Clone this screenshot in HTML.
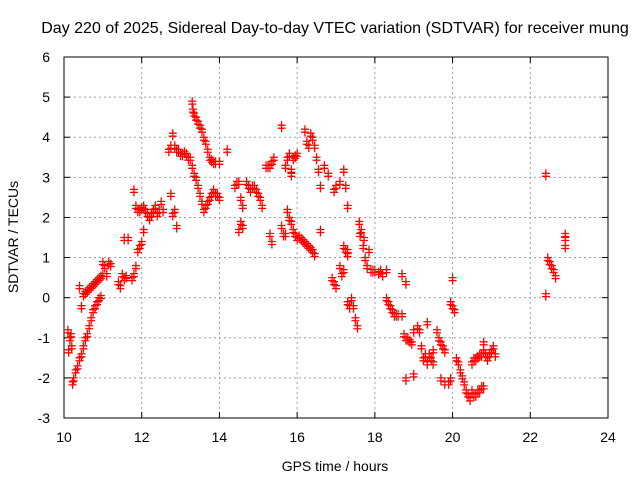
<!DOCTYPE html>
<html><head><meta charset="utf-8"><style>
body{margin:0;background:#fff;width:640px;height:480px;overflow:hidden}
svg text{font-family:"Liberation Sans",sans-serif;font-size:14px;fill:#000}
</style></head><body>
<svg id="chart" width="640" height="480" viewBox="0 0 640 480" xmlns="http://www.w3.org/2000/svg">
<text x="335" y="33" text-anchor="middle" style="font-size:16px">Day 220 of 2025, Sidereal Day-to-day VTEC variation (SDTVAR) for receiver mung</text>
<g id="grid"></g>
<g id="axes"></g>
<g id="marks"></g>
<text x="335" y="471" text-anchor="middle">GPS time / hours</text>
<text transform="translate(18,237) rotate(-90)" text-anchor="middle">SDTVAR / TECUs</text>
</svg>
<script>
const xTicks=[10,12,14,16,18,20,22,24];
const yTicks=[-3,-2,-1,0,1,2,3,4,5,6];
const times=[10.1,10.15,10.2,10.12,10.18,
10.22,10.25,10.3,10.35,10.4,10.45,10.5,10.55,10.6,10.65,10.7,10.75,10.8,10.85,10.9,10.95,
10.4,10.45,10.5,10.55,10.6,10.65,10.7,10.75,10.8,10.85,10.9,10.95,11.0,
11.0,11.05,11.1,11.15,11.2,
11.4,11.45,11.5,11.55,11.6,11.55,11.65,
11.8,11.85,11.9,11.95,12.0,12.05,12.1,12.15,12.2,12.25,12.3,12.35,12.4,12.45,12.5,12.55,
11.75,11.8,11.85,11.9,11.95,12.0,12.05,
12.75,12.8,12.85,12.9,
12.7,12.75,12.8,12.85,12.9,12.95,13.0,13.05,13.1,13.15,13.2,13.25,
13.3,13.32,13.35,13.4,13.45,13.5,13.55,13.6,13.65,13.7,13.75,13.8,13.85,13.9,14.0,
13.3,13.35,13.4,13.45,13.5,13.55,13.6,13.65,13.7,13.75,13.8,13.85,13.9,13.95,14.0,
14.2,14.4,14.45,14.5,14.55,14.6,14.6,14.5,14.55,
14.7,14.75,14.8,14.85,14.9,14.95,15.0,15.05,15.1,
15.3,15.35,
15.2,15.25,15.3,15.35,15.4,15.6,
15.6,15.65,15.7,15.75,15.8,15.85,15.9,15.95,16.0,16.05,16.1,16.15,16.2,16.25,16.3,16.35,16.4,16.45,
15.7,15.75,15.8,15.85,15.9,15.95,16.0,15.85,16.2,16.25,16.3,16.35,16.4,16.45,16.5,16.55,16.6,16.6,
16.7,16.8,16.95,17.0,17.1,17.2,17.25,17.3,
16.9,16.95,17.0,17.1,17.15,17.3,17.3,17.35,17.4,17.45,17.5,17.55,
17.6,17.62,17.65,17.7,17.72,17.75,17.8,17.85,17.9,17.95,18.0,18.1,18.15,18.2,18.3,
17.2,17.25,17.3,17.2,
18.3,18.35,18.4,18.45,18.5,18.55,18.6,18.7,18.7,18.8,
18.75,18.8,18.85,18.9,18.95,19.0,19.1,19.15,19.2,19.25,19.3,19.35,19.4,19.45,19.5,19.5,19.35,18.8,19.0,
19.6,19.65,19.7,19.75,19.8,19.7,19.8,19.9,19.95,20.0,19.95,20.0,20.05,
20.1,20.15,20.2,20.25,20.3,20.35,20.4,20.45,20.5,20.55,20.6,20.65,20.7,20.75,20.8,
20.5,20.55,20.6,20.65,20.7,20.75,20.8,20.85,20.9,20.95,21.0,21.05,21.1,20.8,
22.4,22.4,22.45,22.5,22.55,22.6,22.65,22.9,22.9,22.9];
const values=[-0.8,-1.0,-1.2,-1.3,-0.9,
-2.1,-2.0,-1.8,-1.7,-1.5,-1.4,-1.2,-1.0,-0.9,-0.7,-0.5,-0.3,-0.2,-0.1,0.0,0.05,
0.3,-0.2,0.1,0.15,0.2,0.25,0.3,0.35,0.4,0.45,0.5,0.55,0.6,
0.9,0.8,0.6,0.9,0.85,
0.4,0.3,0.6,0.5,0.55,1.5,1.5,
2.7,2.3,2.2,2.2,2.25,2.3,2.2,2.1,2.0,2.1,2.2,2.3,2.1,2.2,2.4,2.2,
0.5,0.6,0.8,1.2,1.3,1.4,1.7,
2.6,2.1,2.2,1.8,
3.7,3.8,4.1,3.8,3.7,3.7,3.6,3.6,3.65,3.6,3.5,3.5,
4.9,4.7,4.6,4.5,4.4,4.3,4.2,4.0,3.9,3.7,3.5,3.45,3.4,3.4,3.4,
3.3,3.1,3.0,2.8,2.6,2.4,2.2,2.3,2.4,2.5,2.6,2.7,2.6,2.6,2.5,
3.7,2.8,2.9,2.9,2.5,2.3,1.8,1.7,1.9,
2.9,2.8,2.7,2.8,2.8,2.7,2.6,2.5,2.3,
1.6,1.4,
3.3,3.3,3.3,3.4,3.5,4.3,
1.8,1.6,1.6,2.2,2.0,1.9,1.7,1.6,1.5,1.55,1.5,1.45,1.4,1.35,1.3,1.25,1.2,1.1,
3.3,3.5,3.6,3.1,3.5,3.55,3.6,3.2,4.2,3.9,3.8,4.1,4.0,3.8,3.5,3.2,2.8,1.7,
3.3,3.1,2.7,2.8,2.9,3.2,2.8,2.3,
0.5,0.4,0.3,0.8,0.6,1.1,-0.1,-0.2,0.0,-0.2,-0.5,-0.7,
1.9,1.6,1.7,1.3,1.5,1.0,0.8,1.2,0.7,0.7,0.7,0.65,0.7,0.6,0.7,
1.3,1.2,1.2,0.7,
0.0,-0.1,-0.2,-0.3,-0.4,-0.4,-0.4,-0.4,0.6,0.4,
-0.9,-1.0,-1.0,-1.05,-1.1,-0.8,-0.7,-0.8,-1.2,-1.5,-1.4,-0.6,-1.4,-1.5,-1.3,-1.6,-1.6,-2.0,-1.9,
-0.8,-1.0,-1.1,-1.2,-1.3,-2.0,-2.1,-2.1,-0.1,0.5,-2.0,-0.2,-0.3,
-1.5,-1.6,-1.8,-1.95,-2.1,-2.3,-2.4,-2.5,-2.3,-2.4,-2.4,-2.3,-2.3,-2.2,-2.2,
-1.6,-1.5,-1.5,-1.45,-1.4,-1.4,-1.3,-1.4,-1.5,-1.4,-1.3,-1.2,-1.4,-1.1,
3.1,0.1,1.0,0.9,0.8,0.7,0.55,1.6,1.5,1.3];
const L=64,R=608,T=57,B=418;
function X(t){return L+(t-10)/(24-10)*(R-L);}
function Y(v){return T+(6-v)/(6-(-3))*(B-T);}
const NS="http://www.w3.org/2000/svg";
function mk(tag,attrs,parent){const e=document.createElementNS(NS,tag);for(const k in attrs)e.setAttribute(k,attrs[k]);parent.appendChild(e);return e;}
const grid=document.getElementById('grid'),axes=document.getElementById('axes'),marks=document.getElementById('marks');
xTicks.forEach(t=>{
 if(t>10&&t<24){const g=mk('line',{x1:X(t),x2:X(t),y1:T,y2:B,stroke:'#a0a0a0','stroke-dasharray':'2,3'},grid);
 
 }
 mk('line',{x1:X(t),x2:X(t),y1:B,y2:B-6,stroke:'#000'},axes);
 mk('line',{x1:X(t),x2:X(t),y1:T,y2:T+6,stroke:'#000'},axes);
 const tx=mk('text',{x:X(t),y:B+24,'text-anchor':'middle'},axes);tx.textContent=t;
 
 
});
yTicks.forEach(v=>{
 if(v>-3&&v<6){const g=mk('line',{x1:L,x2:R,y1:Y(v),y2:Y(v),stroke:'#a0a0a0','stroke-dasharray':'2,3'},grid);
 
 }
 mk('line',{x1:L,x2:L+6,y1:Y(v),y2:Y(v),stroke:'#000'},axes);
 mk('line',{x1:R,x2:R-6,y1:Y(v),y2:Y(v),stroke:'#000'},axes);
 const tx=mk('text',{x:L-14,y:Y(v)+5,'text-anchor':'end'},axes);tx.textContent=v;
 
 
});
const fr=mk('rect',{x:L,y:T,width:R-L,height:B-T,fill:'none',stroke:'#000'},axes);


let d='';
for(let i=0;i<times.length;i++){const x=X(times[i]),y=Y(values[i]);
 d+=`M${x-4},${y}h8M${x},${y-4}v8`;
 d+=`M${x-4},${y+3}h8M${x},${y-1}v8`;}
const p=mk('path',{d:d,stroke:'#ff0000','stroke-width':1.3,fill:'none'},marks);


</script>
</body></html>
